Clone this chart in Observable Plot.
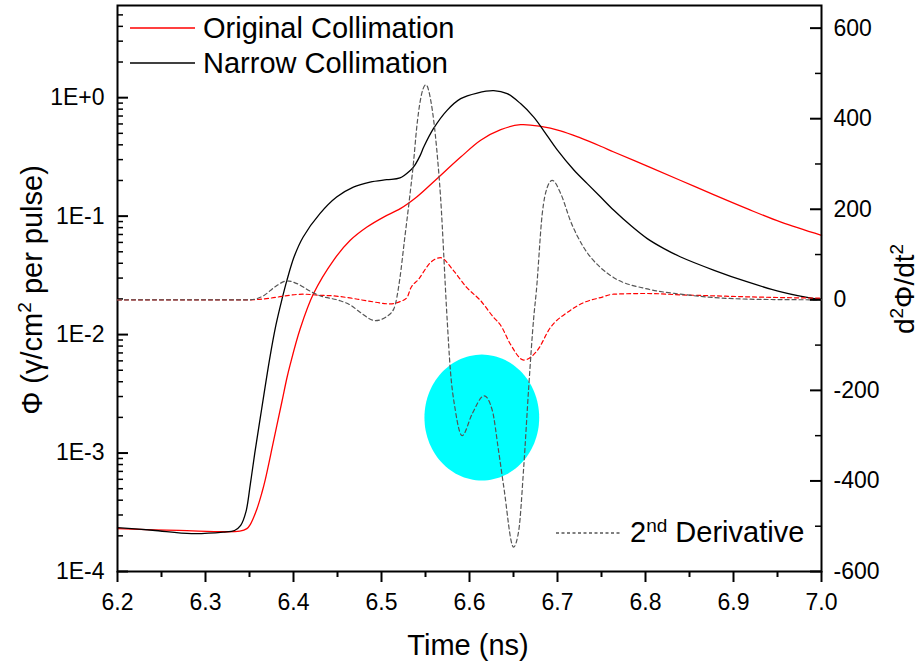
<!DOCTYPE html>
<html>
<head>
<meta charset="utf-8">
<script src="https://cdn.jsdelivr.net/npm/d3@7"></script>
<script src="https://cdn.jsdelivr.net/npm/@observablehq/plot@0.6"></script>
<style>
  body { margin: 0; background: #fff; }
  #chart { position: relative; width: 921px; height: 661px; font-family: "Liberation Sans", Arial, sans-serif; }
  #chart svg { position: absolute; left: 0; top: 0; }
</style>
</head>
<body>
<div id="chart"></div>
<script>
// Photon flux (γ/cm² per pulse) versus time (ns), narrow collimation
const narrowTime = [6.200, 6.240, 6.284, 6.320, 6.333, 6.340, 6.346, 6.351, 6.356, 6.364, 6.373, 6.380, 6.387,
  6.3925, 6.401, 6.411, 6.430, 6.449, 6.468, 6.487, 6.506, 6.521, 6.533, 6.5365, 6.544, 6.548, 6.559, 6.5745,
  6.590, 6.6087, 6.6275, 6.6428, 6.658, 6.673, 6.6844, 6.6997, 6.7186, 6.7338, 6.749, 6.764, 6.783, 6.802,
  6.821, 6.840, 6.878, 6.916, 6.954, 6.992, 7.000];
const narrowFlux = [2.35e-4, 2.23e-4, 2.09e-4, 2.15e-4, 2.22e-4, 2.45e-4, 3.2e-4, 5.5e-4, 1.0e-3, 2.4e-3, 6.3e-3, 1.2e-2, 2.0e-2,
  2.87e-2, 4.6e-2, 6.67e-2, 0.105, 0.145, 0.176, 0.194, 0.203, 0.210, 0.244, 0.260, 0.326, 0.383, 0.547, 0.782,
  0.981, 1.094, 1.146, 1.081, 0.891, 0.685, 0.525, 0.362, 0.245, 0.188, 0.145, 0.112, 0.0836, 0.0646,
  0.0532, 0.0452, 0.0349, 0.0278, 0.0229, 0.0201, 0.0199];

// Photon flux versus time, original collimation
const originalTime = [6.200, 6.270, 6.339, 6.347, 6.351, 6.358, 6.364, 6.368, 6.377, 6.387, 6.3925, 6.396, 6.4076,
  6.4228, 6.4455, 6.4645, 6.4835, 6.5024, 6.5214, 6.540, 6.559, 6.590, 6.6127, 6.6355, 6.658, 6.681, 6.7034,
  6.726, 6.749, 6.764, 6.802, 6.840, 6.878, 6.916, 6.954, 7.000];
const originalFlux = [2.3e-4, 2.22e-4, 2.19e-4, 2.3e-4, 2.5e-4, 3.3e-4, 4.6e-4, 6.0e-4, 1.23e-3, 2.75e-3, 4.3e-3, 5.5e-3, 1.12e-2,
  2.22e-2, 4.24e-2, 6.25e-2, 8.09e-2, 9.82e-2, 0.1156, 0.145, 0.194, 0.315, 0.437, 0.537, 0.592, 0.573, 0.525,
  0.457, 0.389, 0.348, 0.264, 0.200, 0.151, 0.115, 0.089, 0.0689];

// Second derivative d²Φ/dt², narrow collimation
const narrowD2Time = [6.200, 6.350, 6.365, 6.380, 6.3925, 6.405, 6.418, 6.430, 6.453, 6.465, 6.476, 6.493, 6.505,
  6.514, 6.521, 6.526, 6.531, 6.5365, 6.540, 6.544, 6.5505, 6.556, 6.5626, 6.567, 6.5745, 6.578, 6.584, 6.5916,
  6.603, 6.6167, 6.626, 6.633, 6.639, 6.650, 6.656, 6.6616, 6.6673, 6.673, 6.676, 6.6826, 6.6883, 6.694, 6.704,
  6.7148, 6.730, 6.749, 6.764, 6.802, 6.840, 6.878, 6.916, 6.954, 7.000];
const narrowD2 = [0, 0, 8, 30, 42, 35, 20, 9, -2, -12, -28, -46, -38,
  -20, 49, 130, 210, 306, 380, 439, 475, 440, 336, 230, -40, -149, -245, -300,
  -252, -212, -245, -333, -414, -546, -509, -370, -193, -39, 20, 189, 248, 264, 233,
  174, 115, 71, 49, 24, 12.5, 5, 1.5, 0.5, 0];

// Second derivative d²Φ/dt², original collimation
const originalD2Time = [6.200, 6.350, 6.375, 6.395, 6.411, 6.430, 6.445, 6.461, 6.483, 6.510, 6.521, 6.529, 6.533,
  6.542, 6.5555, 6.567, 6.582, 6.597, 6.6127, 6.6275, 6.635, 6.6465, 6.6616, 6.677, 6.692, 6.711, 6.730, 6.749,
  6.764, 6.802, 6.840, 6.878, 6.916, 6.954, 7.000];
const originalD2 = [0, 0, 4, 10, 12.5, 10, 8.8, 5, -2, -9, -4, 5, 25,
  45, 82, 93, 64, 27, -2, -39, -55, -98, -133, -112, -61, -28, -6, 5,
  12.5, 14, 11, 8.8, 6.6, 5, 3.7];

// Highlighted region (time centre, d²Φ/dt² centre, time half-width, d²Φ/dt² half-height)
const highlightCentre = [6.614, -260];
const highlightRadius = [0.0652, 139];

// Axes
const timeTicks = [6.2, 6.3, 6.4, 6.5, 6.6, 6.7, 6.8, 6.9, 7.0];
const timeMinorTicks = [6.25, 6.35, 6.45, 6.55, 6.65, 6.75, 6.85, 6.95];
const fluxTicks = [1e-4, 1e-3, 1e-2, 1e-1, 1];
const fluxTickLabels = ["1E-4", "1E-3", "1E-2", "1E-1", "1E+0"];
const fluxMinorTicks = [2e-4, 3e-4, 4e-4, 5e-4, 6e-4, 7e-4, 8e-4, 9e-4,
  2e-3, 3e-3, 4e-3, 5e-3, 6e-3, 7e-3, 8e-3, 9e-3,
  2e-2, 3e-2, 4e-2, 5e-2, 6e-2, 7e-2, 8e-2, 9e-2,
  0.2, 0.3, 0.4, 0.5, 0.6, 0.7, 0.8, 0.9,
  2, 3, 4, 5];
const d2Ticks = [-600, -400, -200, 0, 200, 400, 600];
const d2MinorTicks = [-500, -300, -100, 100, 300, 500];

const W = 921, H = 661;
const mL = 117, mR = 100, mT = 5, mB = 90;
const plotW = W - mL - mR, plotH = H - mT - mB;
const FONT = "Liberation Sans, Arial, Helvetica, sans-serif";

const narrow = narrowTime.map((t, i) => ({t, v: narrowFlux[i]}));
const original = originalTime.map((t, i) => ({t, v: originalFlux[i]}));
const narrowDer = narrowD2Time.map((t, i) => ({t, v: narrowD2[i]}));
const originalDer = originalD2Time.map((t, i) => ({t, v: originalD2[i]}));

// outline of the highlighted ellipse
const ellipse = d3.range(0, 121).map(k => {
  const a = (k / 120) * 2 * Math.PI;
  return {t: highlightCentre[0] + highlightRadius[0] * Math.cos(a), v: highlightCentre[1] + highlightRadius[1] * Math.sin(a)};
});

const fluxLabel = new Map(fluxTicks.map((d, i) => [d, fluxTickLabels[i]]));

const common = {
  width: W, height: H,
  marginLeft: mL, marginRight: mR, marginTop: mT, marginBottom: mB,
  style: {fontFamily: FONT, fontSize: "23px", color: "#000", background: "transparent", overflow: "visible"}
};

// Layer 1: flux on a log scale with the left and bottom axes
const fluxChart = Plot.plot({
  ...common,
  x: {domain: [6.2, 7.0]},
  y: {type: "log", domain: [1e-4, 6]},
  marks: [
    Plot.line(original, {x: "t", y: "v", stroke: "#ff0000", strokeWidth: 1.3, curve: "catmull-rom"}),
    Plot.line(narrow, {x: "t", y: "v", stroke: "#000000", strokeWidth: 1.3, curve: "catmull-rom"}),
    Plot.axisX(timeTicks, {tickSize: 0, tickPadding: 22, tickFormat: d3.format(".1f"), label: null, fontSize: 23}),
    Plot.tickX(timeTicks, {x: d => d, insetTop: plotH, insetBottom: -11, stroke: "#000", strokeWidth: 2}),
    Plot.tickX(timeMinorTicks, {x: d => d, insetTop: plotH, insetBottom: -6, stroke: "#000", strokeWidth: 2}),
    Plot.axisY(fluxTicks, {tickSize: 0, tickPadding: 13, tickFormat: d => fluxLabel.get(d), label: null, fontSize: 23}),
    Plot.tickY(fluxTicks, {y: d => d, insetRight: plotW - 11, stroke: "#000", strokeWidth: 2}),
    Plot.tickY(fluxMinorTicks, {y: d => d, insetRight: plotW - 6, stroke: "#000", strokeWidth: 1.5}),
    Plot.frame({stroke: "#000", strokeWidth: 2})
  ]
});

// Layer 2: second derivative on a linear scale with the right axis
const derivChart = Plot.plot({
  ...common,
  x: {domain: [6.2, 7.0], axis: null},
  y: {domain: [-600, 650]},
  marks: [
    Plot.line(ellipse, {x: "t", y: "v", fill: "#00ffff", stroke: "none", curve: "linear"}),
    Plot.line(originalDer, {x: "t", y: "v", stroke: "#ff0000", strokeWidth: 1.2, strokeDasharray: "4,3", curve: "monotone-x"}),
    Plot.line(narrowDer, {x: "t", y: "v", stroke: "#555555", strokeWidth: 1.2, strokeDasharray: "4,3", curve: "monotone-x"}),
    Plot.axisY(d2Ticks, {anchor: "right", tickSize: 0, tickPadding: 12, tickFormat: d => String(d), label: null, fontSize: 23}),
    Plot.tickY(d2Ticks, {y: d => d, insetLeft: plotW - 11, stroke: "#000", strokeWidth: 2}),
    Plot.tickY(d2MinorTicks, {y: d => d, insetLeft: plotW - 6, stroke: "#000", strokeWidth: 1.5})
  ]
});

const root = document.getElementById("chart");
root.appendChild(fluxChart);
root.appendChild(derivChart);

// Titles and legend
const svg = d3.select(derivChart);
const txt = (x, y, size, anchor) => svg.append("text")
  .attr("x", x).attr("y", y)
  .attr("text-anchor", anchor || "start")
  .style("text-anchor", anchor || "start")
  .style("font-family", FONT).style("font-size", size + "px").attr("fill", "#000");

txt(468, 655, 29, "middle").text("Time (ns)");

const leftTitle = svg.append("text")
  .attr("transform", "translate(42,290) rotate(-90)")
  .attr("text-anchor", "middle").style("text-anchor", "middle")
  .style("font-family", FONT).style("font-size", "29px").attr("fill", "#000");
leftTitle.append("tspan").text("Φ (γ/cm");
leftTitle.append("tspan").attr("dy", -11).style("font-size", "19px").text("2");
leftTitle.append("tspan").attr("dy", 11).text(" per pulse)");

const rightTitle = svg.append("text")
  .attr("transform", "translate(914,289) rotate(-90)")
  .attr("text-anchor", "middle").style("text-anchor", "middle")
  .style("font-family", FONT).style("font-size", "28px").attr("fill", "#000");
rightTitle.append("tspan").text("d");
rightTitle.append("tspan").attr("dy", -11).style("font-size", "19px").text("2");
rightTitle.append("tspan").attr("dy", 11).text("Φ/dt");
rightTitle.append("tspan").attr("dy", -11).style("font-size", "19px").text("2");

const legendLine = (x1, x2, y, stroke, dash) => svg.append("line")
  .attr("x1", x1).attr("x2", x2).attr("y1", y).attr("y2", y)
  .attr("stroke", stroke).attr("stroke-width", 1.3)
  .attr("stroke-dasharray", dash || null);

legendLine(130, 195, 28, "#ff0000");
txt(203, 38, 29).text("Original Collimation");
legendLine(130, 195, 63, "#000000");
txt(203, 73, 29).text("Narrow Collimation");

legendLine(556, 622, 533, "#555555", "3,2.5");
const derivLabel = txt(630, 542, 29);
derivLabel.append("tspan").text("2");
derivLabel.append("tspan").attr("dy", -10).style("font-size", "19px").text("nd");
derivLabel.append("tspan").attr("dy", 10).text(" Derivative");
</script>
</body>
</html>
